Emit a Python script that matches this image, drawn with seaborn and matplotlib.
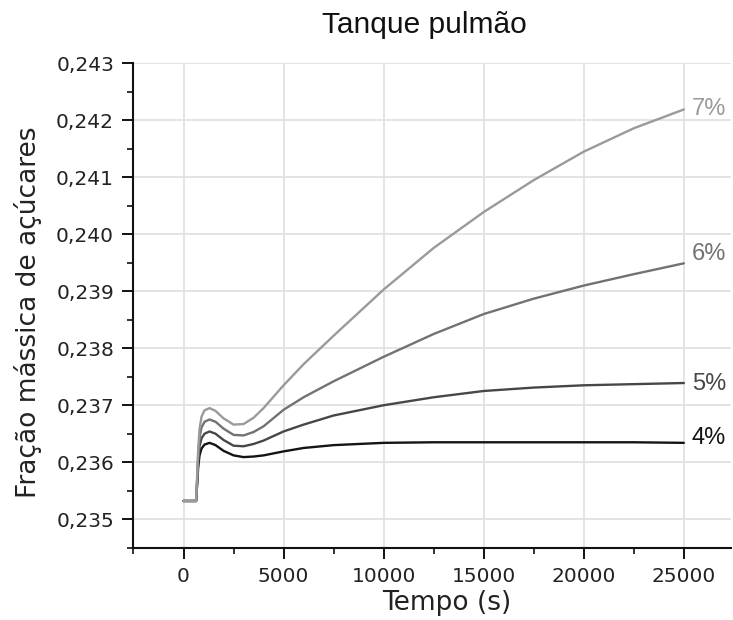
import matplotlib
matplotlib.use("Agg")
import matplotlib.pyplot as plt
from matplotlib.ticker import MultipleLocator, FixedLocator
import numpy as np
import pandas as pd
import seaborn as sns

# ---- data ----
tempo = [0, 630, 680, 730, 800, 900, 1050, 1300, 1600, 2000, 2500, 3000, 3500,
         4000, 5000, 6000, 7500, 10000, 12500, 15000, 17500, 20000, 22500, 25000]
serie_4 = [0.23532, 0.23532, 0.23560, 0.23590, 0.23612, 0.23624, 0.23631, 0.23634,
           0.23630, 0.23620, 0.23612, 0.23609, 0.23610, 0.23612, 0.23619, 0.23625,
           0.23630, 0.23634, 0.23635, 0.23635, 0.23635, 0.23635, 0.23635, 0.23634]
serie_5 = [0.23532, 0.23532, 0.23565, 0.23600, 0.23628, 0.23642, 0.23650, 0.23654,
           0.23650, 0.23639, 0.23629, 0.23628, 0.23632, 0.23638, 0.23654, 0.23666,
           0.23682, 0.23700, 0.23714, 0.23725, 0.23731, 0.23735, 0.23737, 0.23739]
serie_6 = [0.23532, 0.23532, 0.23570, 0.23610, 0.23643, 0.23661, 0.23671, 0.23675,
           0.23671, 0.23659, 0.23648, 0.23647, 0.23653, 0.23663, 0.23692, 0.23714,
           0.23742, 0.23785, 0.23825, 0.23860, 0.23887, 0.23910, 0.23930, 0.23949]
serie_7 = [0.23532, 0.23532, 0.23575, 0.23620, 0.23658, 0.23680, 0.23691, 0.23695,
           0.23690, 0.23677, 0.23666, 0.23667, 0.23678, 0.23695, 0.23735, 0.23772,
           0.23822, 0.23903, 0.23976, 0.24039, 0.24095, 0.24145, 0.24186, 0.24219]
series_names = ["4%", "5%", "6%", "7%"]
series_colors = ["#141414", "#474747", "#727272", "#9a9a9a"]
label_y = [0.23643, 0.23738, 0.23965, 0.24219]

y_ticks = [0.235, 0.236, 0.237, 0.238, 0.239, 0.240, 0.241, 0.242, 0.243]
y_ticklabels = ["0,235", "0,236", "0,237", "0,238", "0,239", "0,240", "0,241", "0,242", "0,243"]
x_ticks = [0, 5000, 10000, 15000, 20000, 25000]
x_ticklabels = ["0", "5000", "10000", "15000", "20000", "25000"]

titulo = "Tanque pulmão"
xlabel = "Tempo (s)"
ylabel = "Fração mássica de açúcares"

# ---- build long table ----
frames = []
for name, vals in zip(series_names, [serie_4, serie_5, serie_6, serie_7]):
    frames.append(pd.DataFrame({"Tempo": tempo, "Valor": vals, "Serie": name}))
df = pd.concat(frames, ignore_index=True)

sns.set_theme(style="whitegrid")
plt.rcParams["font.family"] = ["DejaVu Sans"]

fig = plt.figure(figsize=(7.33, 6.2), dpi=100)
ax = fig.add_axes([0.1821, 0.1166, 0.8150, 0.7813])

sns.lineplot(data=df, x="Tempo", y="Valor", hue="Serie", hue_order=series_names,
             palette=dict(zip(series_names, series_colors)), linewidth=1.7,
             legend=False, ax=ax)

ax.set_xlim(-2500, 27350)
ax.set_ylim(0.2345, 0.243)

ax.xaxis.set_major_locator(FixedLocator(x_ticks))
ax.set_xticklabels(x_ticklabels)
ax.xaxis.set_minor_locator(MultipleLocator(2500))
ax.yaxis.set_major_locator(FixedLocator(y_ticks))
ax.set_yticklabels(y_ticklabels)
ax.yaxis.set_minor_locator(MultipleLocator(0.0005))

ax.grid(True, which="major", color="#e2e2e2", linewidth=1.3)
ax.grid(False, which="minor")
ax.set_facecolor("white")
for s in ["top", "right"]:
    ax.spines[s].set_visible(False)
for s in ["left", "bottom"]:
    ax.spines[s].set_visible(True)
    ax.spines[s].set_color("#111111")
    ax.spines[s].set_linewidth(1.5)

ax.tick_params(which="major", direction="out", length=8, width=1.4, color="#111111",
               labelsize=14.5, pad=6, labelcolor="#222222")
ax.tick_params(which="minor", direction="out", length=4, width=1.2, color="#111111")
ax.tick_params(axis="x", which="both", bottom=True)
ax.tick_params(axis="y", which="both", left=True)

ax.set_xlabel(xlabel, fontsize=19, color="#222222")
ax.xaxis.set_label_coords(0.525, -0.087)
ax.set_ylabel(ylabel, fontsize=19, color="#222222")
ax.yaxis.set_label_coords(-0.153, 0.487)
fig.text(0.5785, 1 - 33 / 620, titulo, ha="center", va="baseline", fontsize=21.5,
         family=["Liberation Sans", "DejaVu Sans"], color="#111111")

for name, col, yv in zip(series_names, series_colors, label_y):
    ax.text(25400, yv, name, ha="left", va="center", fontsize=17, color=col,
            family=["Liberation Sans", "DejaVu Sans"])

fig.savefig("out.png", dpi=100, facecolor="white")
